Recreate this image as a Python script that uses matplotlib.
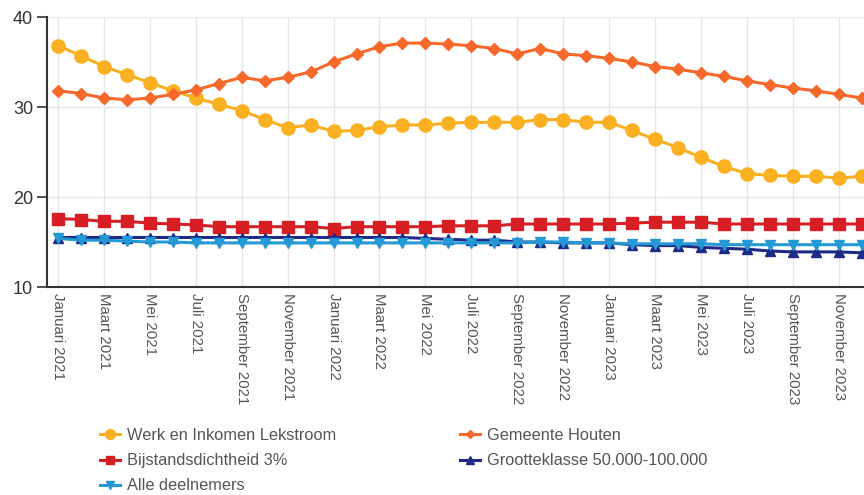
import matplotlib
matplotlib.use("Agg")
import matplotlib.pyplot as plt

months = [
    "Januari", "Februari", "Maart", "April", "Mei", "Juni",
    "Juli", "Augustus", "September", "Oktober", "November", "December",
]
years = [2021, 2022, 2023]
periods = [f"{m} {y}" for y in years for m in months]

werk_inkomen = [
    36.8, 35.7, 34.5, 33.6, 32.7, 31.8, 31.0, 30.3, 29.6, 28.6, 27.7, 28.0,
    27.3, 27.4, 27.8, 28.0, 28.0, 28.2, 28.3, 28.3, 28.3, 28.6, 28.6, 28.3,
    28.3, 27.4, 26.4, 25.5, 24.4, 23.4, 22.6, 22.4, 22.3, 22.3, 22.1, 22.3,
]
houten = [
    31.8, 31.5, 31.0, 30.8, 31.0, 31.4, 31.9, 32.6, 33.3, 32.9, 33.3, 33.9,
    35.0, 35.9, 36.7, 37.1, 37.1, 37.0, 36.8, 36.5, 35.9, 36.5, 35.9, 35.7,
    35.4, 35.0, 34.5, 34.2, 33.8, 33.4, 32.9, 32.5, 32.1, 31.8, 31.4, 31.0,
]
bijstand = [
    17.6, 17.5, 17.3, 17.3, 17.1, 17.0, 16.9, 16.7, 16.7, 16.7, 16.7, 16.7,
    16.5, 16.7, 16.7, 16.7, 16.7, 16.8, 16.8, 16.8, 17.0, 17.0, 17.0, 17.0,
    17.0, 17.1, 17.2, 17.2, 17.2, 17.0, 17.0, 17.0, 17.0, 17.0, 17.0, 17.0,
]
grootteklasse = [
    15.5, 15.5, 15.5, 15.5, 15.5, 15.5, 15.5, 15.5, 15.5, 15.5, 15.5, 15.5,
    15.5, 15.5, 15.5, 15.5, 15.4, 15.3, 15.2, 15.2, 15.0, 15.0, 14.9, 14.9,
    14.9, 14.7, 14.6, 14.6, 14.4, 14.3, 14.2, 14.0, 13.9, 13.9, 13.9, 13.8,
]
alle = [
    15.4, 15.2, 15.2, 15.1, 15.0, 15.0, 14.9, 14.9, 14.9, 14.9, 14.9, 14.9,
    14.9, 14.9, 14.9, 14.9, 14.9, 14.9, 14.9, 14.9, 14.9, 15.0, 15.0, 14.9,
    14.9, 14.8, 14.8, 14.8, 14.8, 14.7, 14.7, 14.7, 14.7, 14.7, 14.7, 14.7,
]

series = [
    ("Werk en Inkomen Lekstroom", werk_inkomen, "#FBB022", "o", 9.5),
    ("Gemeente Houten", houten, "#F7692A", "D", 6),
    ("Bijstandsdichtheid 3%", bijstand, "#D61E24", "s", 8.5),
    ("Grootteklasse 50.000-100.000", grootteklasse, "#1E2A87", "^", 7.5),
    ("Alle deelnemers", alle, "#2399D6", "v", 7.5),
]

plt.rcParams["font.family"] = ["Liberation Sans", "DejaVu Sans"]

fig = plt.figure(figsize=(8.64, 4.95), dpi=100)
ax = fig.add_axes([47 / 864, 1 - 287 / 495, 1 - 47 / 864, 270 / 495])

x = list(range(len(periods)))
handles = []
for label, vals, color, marker, ms in series:
    (h,) = ax.plot(x, vals, color=color, marker=marker, markersize=ms,
                   linewidth=2.2, label=label, zorder=3)
    handles.append(h)

ax.set_xlim(-0.48, 35.1)
ax.set_ylim(10, 40)
ax.set_yticks([10, 20, 30, 40])
ax.set_xticks(x[::2])
ax.set_xticklabels(periods[::2], rotation=270, fontsize=10.8, color="#555555")
ax.tick_params(axis="x", length=0, pad=4)
ax.tick_params(axis="y", length=7, width=1.2, color="#333333",
               labelsize=13, labelcolor="#333333", pad=3)

ax.grid(True, color="#e6e6e6", linewidth=1, zorder=0)
ax.set_axisbelow(True)
for side in ["top", "right"]:
    ax.spines[side].set_visible(False)
for side in ["left", "bottom"]:
    ax.spines[side].set_color("#333333")
    ax.spines[side].set_linewidth(1.5)

order = [handles[0], handles[2], handles[4], handles[1], handles[3]]
leg = fig.legend(handles=order, loc="upper left", bbox_to_anchor=(0.0985, 0.165),
                 ncol=2, frameon=False, fontsize=11.8, labelcolor="#555555",
                 markerscale=0.75, handlelength=1.2, handletextpad=0.45,
                 columnspacing=7.55, labelspacing=0.62)

fig.savefig("out.png", dpi=100)
